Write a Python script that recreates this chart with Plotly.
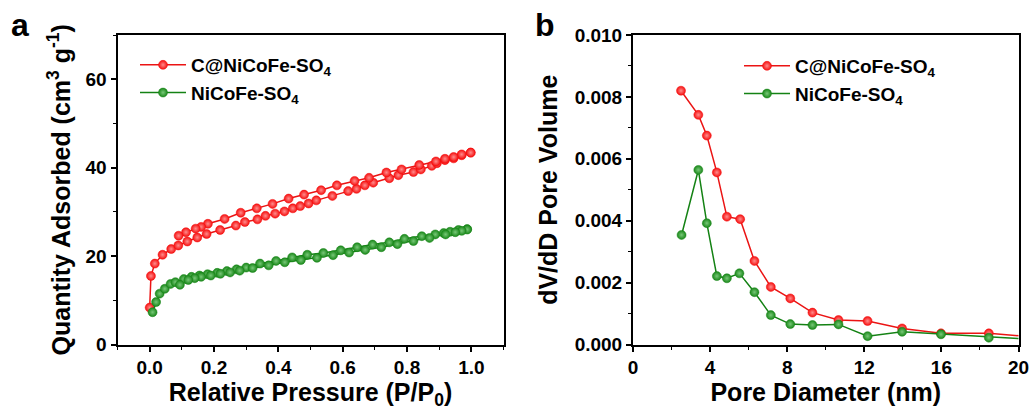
import plotly.graph_objects as go

# ---------- Panel a: N2 isotherms ----------
red_ads_p = [0.0, 0.004, 0.016, 0.04, 0.067, 0.089, 0.117, 0.148, 0.177, 0.219, 0.268, 0.296,
             0.335, 0.36, 0.39, 0.419, 0.445, 0.468, 0.494, 0.518, 0.568, 0.617, 0.643, 0.669,
             0.695, 0.745, 0.773, 0.82, 0.843, 0.877, 0.893, 0.918, 0.945, 0.97, 0.998]
red_ads_v = [8.35, 15.5, 18.3, 20.3, 21.6, 22.4, 23.3, 24.2, 25.0, 25.9, 26.9, 27.7,
             28.3, 29.1, 29.6, 30.1, 30.8, 31.3, 31.9, 32.6, 33.6, 34.7, 35.2, 36.0,
             36.6, 37.6, 38.3, 39.0, 39.6, 40.4, 41.0, 41.7, 42.1, 42.8, 43.4]
red_des_p = [0.998, 0.97, 0.945, 0.918, 0.89, 0.838, 0.783, 0.736, 0.682, 0.637, 0.582, 0.533,
             0.48, 0.432, 0.382, 0.333, 0.283, 0.233, 0.181, 0.16, 0.143, 0.113, 0.09]
red_des_v = [43.4, 43.0, 42.4, 42.0, 41.4, 40.6, 39.6, 38.9, 37.7, 37.0, 36.0, 34.9,
             33.9, 33.0, 31.8, 30.8, 29.8, 28.4, 27.3, 26.6, 26.2, 25.4, 24.6]

green_ads_p = [0.009, 0.02, 0.031, 0.047, 0.065, 0.08, 0.106, 0.13, 0.155, 0.18, 0.21, 0.24,
               0.27, 0.30, 0.343, 0.393, 0.443, 0.49, 0.54, 0.594, 0.645, 0.693, 0.745, 0.792,
               0.846, 0.888, 0.914, 0.934, 0.96, 0.987]
green_ads_v = [7.3, 9.6, 11.5, 12.6, 13.7, 14.1, 14.8, 15.3, 15.6, 15.9, 16.2, 16.6,
               17.0, 17.4, 18.3, 18.9, 19.7, 20.3, 20.7, 21.3, 22.0, 22.6, 23.1, 23.9,
               24.5, 24.9, 25.2, 25.5, 25.9, 26.1]
green_des_p = [0.987, 0.97, 0.95, 0.92, 0.87, 0.82, 0.77, 0.72, 0.67, 0.62, 0.57, 0.52,
               0.47, 0.42, 0.37, 0.32, 0.28, 0.25, 0.22, 0.19, 0.16, 0.14, 0.12, 0.094]
green_des_v = [26.0, 25.7, 25.4, 24.9, 24.1, 23.4, 22.7, 22.0, 21.4, 20.8, 20.2, 19.6,
               19.1, 18.6, 17.9, 17.3, 16.7, 16.3, 16.0, 15.6, 15.3, 15.0, 14.6, 13.5]

# ---------- Panel b: pore size distribution ----------
red_d = [2.49, 3.39, 3.83, 4.35, 4.87, 5.56, 6.30, 7.15, 8.16, 9.31, 10.66, 12.17, 13.96, 15.98, 18.46, 21.2]
red_dv = [0.0082, 0.00742, 0.00675, 0.00556, 0.00413, 0.00405, 0.0027, 0.00186, 0.00149,
          0.00103, 0.00079, 0.00076, 0.00052, 0.00036, 0.00036, 0.00022]
green_d = [2.52, 3.39, 3.83, 4.35, 4.87, 5.52, 6.30, 7.15, 8.16, 9.31, 10.66, 12.17, 13.96, 15.98, 18.46, 21.2]
green_dv = [0.00354, 0.00564, 0.00392, 0.00221, 0.00214, 0.0023, 0.00169, 0.00095, 0.00066,
            0.00063, 0.00065, 0.00027, 0.00041, 0.00033, 0.00022, 0.00015]

name_red = "C@NiCoFe-SO<sub>4</sub>"
name_green = "NiCoFe-SO<sub>4</sub>"

RED = "rgb(235,20,20)"
RED_M = "rgb(245,15,15)"
GREEN = "rgb(20,130,20)"
GREEN_M = "rgb(25,135,25)"
FONT = "Liberation Sans, Arial, sans-serif"


def mk(color, center):
    return dict(symbol="circle", size=9, color=color,
                gradient=dict(type="radial", color=center),
                line=dict(color=color, width=0.5))


fig = go.Figure()
fig.add_trace(go.Scatter(x=red_ads_p + red_des_p, y=red_ads_v + red_des_v, mode="lines+markers",
                         name=name_red, line=dict(color=RED, width=1.5),
                         marker=mk(RED_M, "rgb(255,140,140)"), xaxis="x", yaxis="y", legend="legend"))
fig.add_trace(go.Scatter(x=green_ads_p + green_des_p, y=green_ads_v + green_des_v, mode="lines+markers",
                         name=name_green, line=dict(color=GREEN, width=1.5),
                         marker=mk(GREEN_M, "rgb(120,200,120)"), xaxis="x", yaxis="y", legend="legend"))
fig.add_trace(go.Scatter(x=red_d, y=red_dv, mode="lines+markers", name=name_red,
                         line=dict(color=RED, width=1.5), marker=mk(RED_M, "rgb(255,140,140)"),
                         xaxis="x2", yaxis="y2", legend="legend2"))
fig.add_trace(go.Scatter(x=green_d, y=green_dv, mode="lines+markers", name=name_green,
                         line=dict(color=GREEN, width=1.5), marker=mk(GREEN_M, "rgb(120,200,120)"),
                         xaxis="x2", yaxis="y2", legend="legend2"))

tickfont = dict(family=FONT, size=19, color="black", weight="bold")
titlefont = dict(family=FONT, size=25, color="black", weight="bold")

common = dict(showline=True, linewidth=2, linecolor="black", mirror=True, ticks="outside",
              ticklen=5, tickwidth=1.5, tickcolor="black", showgrid=False, zeroline=False,
              tickfont=tickfont, automargin=False)

ydom = [1 - 344.5 / 410, 1 - 35 / 410]
legfont = dict(family=FONT, size=19, color="black", weight="bold")

fig.update_layout(
    width=1033, height=410, margin=dict(l=0, r=0, t=0, b=0, autoexpand=False),
    paper_bgcolor="white", plot_bgcolor="white",
    font=dict(family=FONT, color="black"),
    xaxis=dict(domain=[117.5 / 1033, 503.5 / 1033], range=[-0.1, 1.1], tick0=0, dtick=0.2,
               tickformat=".1f", anchor="y",
               minor=dict(dtick=0.1, ticks="outside", ticklen=3, tickwidth=1.2, tickcolor="black"),
               title=dict(text="Relative Pressure (P/P<sub>0</sub>)", font=titlefont, standoff=0),
               **common),
    yaxis=dict(domain=ydom, range=[0, 70], tick0=0, dtick=20, anchor="x",
               minor=dict(dtick=10, ticks="outside", ticklen=3, tickwidth=1.2, tickcolor="black"),
               title=dict(text="Quantity Adsorbed (cm<sup>3</sup> g<sup>-1</sup>)", font=titlefont, standoff=8),
               **common),
    xaxis2=dict(domain=[633 / 1033, 1018.5 / 1033], range=[0, 20], tick0=0, dtick=4, anchor="y2",
                minor=dict(dtick=2, ticks="outside", ticklen=3, tickwidth=1.2, tickcolor="black"),
                title=dict(text="Pore Diameter (nm)", font=titlefont, standoff=0),
                **common),
    yaxis2=dict(domain=ydom, range=[0, 0.010], tick0=0, dtick=0.002, tickformat=".3f", anchor="x2",
                minor=dict(dtick=0.001, ticks="outside", ticklen=3, tickwidth=1.2, tickcolor="black"),
                title=dict(text="dV/dD Pore Volume", font=titlefont, standoff=10),
                **common),
    legend=dict(x=135 / 1033, y=1 - 46 / 410, xanchor="left", yanchor="top",
                bgcolor="rgba(0,0,0,0)", borderwidth=0, itemwidth=46,
                font=legfont, tracegroupgap=0),
    legend2=dict(x=739 / 1033, y=1 - 47 / 410, xanchor="left", yanchor="top",
                 bgcolor="rgba(0,0,0,0)", borderwidth=0, itemwidth=46,
                 font=legfont, tracegroupgap=0),
    annotations=[
        dict(text="a", x=9 / 1033, y=1 - 5 / 410, xref="paper", yref="paper", xanchor="left",
             yanchor="top", showarrow=False, font=dict(family=FONT, size=32, color="black", weight="bold")),
        dict(text="b", x=533 / 1033, y=1 - 5 / 410, xref="paper", yref="paper", xanchor="left",
             yanchor="top", showarrow=False, font=dict(family=FONT, size=32, color="black", weight="bold")),
    ],
)

fig.write_html("out.html")
